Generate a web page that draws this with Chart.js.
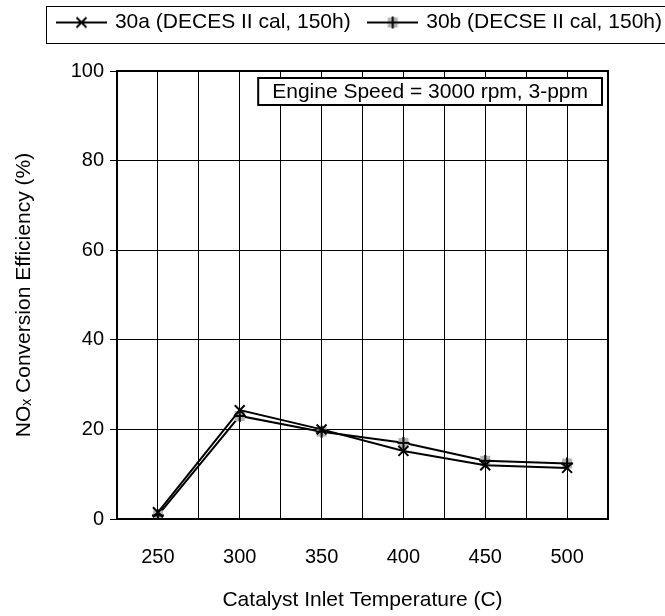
<!DOCTYPE html>
<html>
<head>
<meta charset="utf-8">
<script src="https://cdn.jsdelivr.net/npm/chart.js@4"></script>
<style>
  html, body { margin: 0; padding: 0; background: #fff; }
  #wrap { width: 665px; height: 616px; }
</style>
</head>
<body>
<div id="wrap"><canvas id="chart"></canvas></div>
<script>
// values
var temps = [250, 300, 350, 400, 450, 500];
var eff30a = [1.5, 24.3, 20, 15.2, 12, 11.4];
var eff30b = [0.8, 23, 19.5, 17, 13, 12.4];
var seriesNames = ['30a (DECES II cal, 150h)', '30b (DECSE II cal, 150h)'];
var yTicks = [0, 20, 40, 60, 80, 100];
var noteText = 'Engine Speed = 3000 rpm, 3-ppm';

var FONT = "'Liberation Sans', Arial, sans-serif";

function toPoints(vals) {
    return temps.map(function (t, i) { return { x: t, y: vals[i] }; });
}

// gray square with a black plus (30b marker); w > 14 adds the legend line
function plusMark(w) {
    var c = document.createElement('canvas');
    c.width = w; c.height = 14;
    var g = c.getContext('2d');
    var cx = w / 2;
    g.strokeStyle = '#000';
    g.lineWidth = 2;
    if (w > 14) {
        g.beginPath(); g.moveTo(0, 7); g.lineTo(w, 7); g.stroke();
    }
    g.fillStyle = '#b4b4b4';
    g.fillRect(cx - 5, 2, 10, 10);
    g.beginPath();
    g.moveTo(cx - 6, 7); g.lineTo(cx + 6, 7);
    g.moveTo(cx, 1); g.lineTo(cx, 13);
    g.stroke();
    return c;
}

// legend sample for 30a: line with an x
function xMark(w) {
    var c = document.createElement('canvas');
    c.width = w; c.height = 14;
    var g = c.getContext('2d');
    var cx = w / 2;
    g.strokeStyle = '#000';
    g.lineWidth = 2;
    g.beginPath();
    g.moveTo(0, 7); g.lineTo(w, 7);
    g.moveTo(cx - 5, 2); g.lineTo(cx + 5, 12);
    g.moveTo(cx + 5, 2); g.lineTo(cx - 5, 12);
    g.stroke();
    return c;
}

var legendA = xMark(51);
var legendB = plusMark(51);

var framePlugin = {
    id: 'frame',
    beforeInit: function (chart) {
        // leave room under the legend so the plot starts lower
        var lg = chart.legend;
        var fit = lg.fit;
        lg.fit = function () {
            fit.call(this);
            this.height = 71;
        };
    },
    afterLayout: function (chart) {
        // legend row runs slightly off the right edge, as in the original
        var lg = chart.legend;
        lg.left += 16; lg.right += 16;
        lg.top -= 7; lg.bottom -= 7;
    },
    afterDatasetsDraw: function (chart) {
        var ctx = chart.ctx, a = chart.chartArea;
        ctx.save();
        ctx.strokeStyle = '#000';
        ctx.lineWidth = 2;
        ctx.strokeRect(a.left, a.top, a.right - a.left, a.bottom - a.top);

        // note box, top right of plot
        ctx.font = '21px ' + FONT;
        var tw = ctx.measureText(noteText).width;
        var bw = tw + 28, bh = 27;
        var bx = a.right - 6 - bw, by = a.top + 7;
        ctx.fillStyle = '#fff';
        ctx.fillRect(bx, by, bw, bh);
        ctx.strokeRect(bx, by, bw, bh);
        ctx.fillStyle = '#000';
        ctx.textBaseline = 'middle';
        ctx.textAlign = 'center';
        ctx.fillText(noteText, bx + bw / 2, by + bh / 2 + 1);
        ctx.restore();
    },
    afterDraw: function (chart) {
        var ctx = chart.ctx;
        ctx.save();
        ctx.strokeStyle = '#000';
        ctx.lineWidth = 1;
        ctx.strokeRect(46.5, 6.5, chart.width, 37);
        ctx.restore();
    }
};

var ctx = document.getElementById('chart').getContext('2d');
window.noxChart = new Chart(ctx, {
    type: 'line',
    data: {
        datasets: [{
            label: seriesNames[0],
            data: toPoints(eff30a),
            borderColor: '#000',
            borderWidth: 2,
            pointStyle: 'crossRot',
            pointRadius: 7,
            pointBorderWidth: 2,
            pointBorderColor: '#000',
            tension: 0
        }, {
            label: seriesNames[1],
            data: toPoints(eff30b),
            borderColor: '#000',
            borderWidth: 2,
            pointStyle: plusMark(14),
            pointRadius: 7,
            tension: 0
        }]
    },
    options: {
        responsive: true,
        maintainAspectRatio: false,
        animation: false,
        layout: { padding: 0 },
        plugins: {
            tooltip: { enabled: false },
            legend: {
                position: 'top',
                align: 'end',
                labels: {
                    usePointStyle: true,
                    pointStyleWidth: 46,
                    padding: 19,
                    color: '#000',
                    font: { family: FONT, size: 21 },
                    generateLabels: function () {
                        return [
                            { text: seriesNames[0], pointStyle: legendA, lineWidth: 0, datasetIndex: 0, hidden: false, fontColor: '#000' },
                            { text: seriesNames[1], pointStyle: legendB, lineWidth: 0, datasetIndex: 1, hidden: false, fontColor: '#000' }
                        ];
                    }
                }
            }
        },
        scales: {
            x: {
                type: 'linear',
                min: 225,
                max: 525,
                border: { color: '#000', width: 2 },
                grid: { color: '#000', lineWidth: 1, drawTicks: false },
                ticks: {
                    stepSize: 25,
                    padding: 26,
                    color: '#000',
                    font: { family: FONT, size: 20 },
                    callback: function (v) { return temps.indexOf(v) >= 0 ? String(v) : ''; }
                },
                title: {
                    display: true,
                    text: 'Catalyst Inlet Temperature (C)',
                    color: '#000',
                    font: { family: FONT, size: 21 },
                    padding: { top: 0, bottom: 3 }
                },
                afterFit: function (s) { s.height = 97; }
            },
            y: {
                min: 0,
                max: 100,
                border: { color: '#000', width: 2 },
                grid: { color: '#000', lineWidth: 1, tickLength: 7, tickColor: '#000' },
                ticks: {
                    stepSize: 20,
                    padding: 6,
                    color: '#000',
                    font: { family: FONT, size: 20 },
                    callback: function (v) { return yTicks.indexOf(v) >= 0 ? String(v) : ''; }
                },
                title: {
                    display: true,
                    text: 'NO\u2093 Conversion Efficiency (%)',
                    color: '#000',
                    font: { family: FONT, size: 21 },
                    padding: { top: 12, bottom: 0 }
                },
                afterFit: function (s) { s.width = 117; }
            },
            // empty strip keeping the plot off the right edge
            yRight: {
                position: 'right',
                min: 0,
                max: 100,
                border: { display: false },
                grid: { display: false, drawTicks: false },
                ticks: { display: false },
                afterFit: function (s) { s.width = 57; }
            }
        }
    },
    plugins: [framePlugin]
});
</script>
</body>
</html>
